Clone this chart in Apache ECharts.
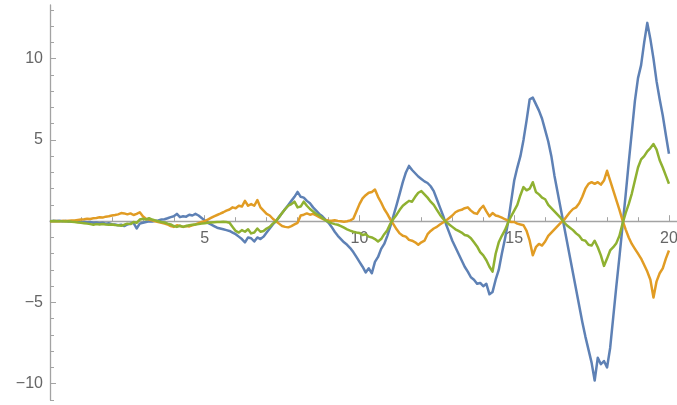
<!DOCTYPE html>
<html>
<head>
<meta charset="utf-8">
<script src="https://cdn.jsdelivr.net/npm/echarts@6/dist/echarts.min.js"></script>
<style>
  html, body { margin: 0; padding: 0; background: #fff; }
  #chart { width: 677px; height: 405px; }
</style>
</head>
<body>
<div id="chart"></div>
<script>
// Three noisy oscillating traces sampled every 0.1 on t in [0, 20]
const tStep = 0.1;

const blueValues = [
  0, 0.02, 0.01, 0.03, 0, 0.02, -0.02, 0, -0.03, -0.01,
  -0.05, -0.03, -0.07, -0.05, -0.1, -0.08, -0.12, -0.1, -0.15, -0.13,
  -0.18, -0.2, -0.25, -0.22, -0.3, -0.2, -0.15, -0.1, -0.45, -0.15,
  -0.1, -0.05, 0, -0.02, 0.03, 0.05, 0.1, 0.12, 0.18, 0.25,
  0.3, 0.45, 0.25, 0.3, 0.28, 0.4, 0.35, 0.45, 0.35, 0.2,
  0.05, -0.1, -0.2, -0.3, -0.4, -0.45, -0.5, -0.55, -0.6, -0.7,
  -0.8, -0.95, -1.1, -1.3, -1.0, -1.05, -1.25, -1.0, -1.1, -0.95,
  -0.7, -0.45, -0.2, 0, 0.25, 0.5, 0.75, 1.0, 1.25, 1.5,
  1.8, 1.5, 1.45, 1.25, 1.1, 0.85, 0.65, 0.45, 0.3, 0.1,
  -0.1, -0.35, -0.65, -0.9, -1.1, -1.3, -1.45, -1.65, -1.9, -2.2,
  -2.5, -2.8, -3.15, -2.9, -3.2, -2.5, -2.2, -1.7, -1.4, -0.9,
  -0.3, 0.35, 1.0, 1.7, 2.4, 3.0, 3.4, 3.15, 2.95, 2.75,
  2.6, 2.45, 2.35, 2.15, 1.85, 1.35, 0.85, 0.35, -0.2, -0.7,
  -1.2, -1.6, -2.0, -2.4, -2.8, -3.1, -3.45, -3.6, -3.85, -3.8,
  -4.0, -3.85, -4.5, -4.35, -3.6, -3.0, -2.0, -1.1, -0.1, 1.2,
  2.5, 3.3, 4.0, 5.0, 6.2, 7.5, 7.6, 7.2, 6.8, 6.3,
  5.6, 4.9, 4.0, 2.8, 1.8, 0.8, -0.2, -1.2, -2.2, -3.2,
  -4.2, -5.2, -6.2, -7.1, -7.9, -8.7, -9.8, -8.4, -8.8, -8.6,
  -9.0, -7.8, -5.9, -4.0, -2.2, -0.3, 1.6, 3.6, 5.5, 7.4,
  8.8, 9.6, 11.0, 12.2, 11.2, 10.0, 8.6, 7.5, 6.5, 5.3,
  4.15
];

const orangeValues = [
  0, -0.01, 0.01, 0, 0.02, 0.01, 0.03, 0.05, 0.04, 0.08,
  0.1, 0.12, 0.15, 0.14, 0.18, 0.2, 0.24, 0.22, 0.28, 0.3,
  0.35, 0.38, 0.42, 0.5, 0.48, 0.42, 0.48, 0.38, 0.45, 0.55,
  0.3, 0.15, 0.1, 0.05, 0, -0.05, -0.1, -0.15, -0.2, -0.3,
  -0.35, -0.25, -0.3, -0.35, -0.3, -0.32, -0.25, -0.2, -0.12, -0.05,
  0, 0.1, 0.2, 0.3, 0.38, 0.46, 0.55, 0.65, 0.72, 0.85,
  0.8, 0.95, 0.9, 1.25, 0.95, 1.05, 0.95, 1.3, 0.85, 0.65,
  0.45, 0.35, 0.15, 0, -0.15, -0.3, -0.35, -0.38, -0.3, -0.2,
  -0.1, 0.35, 0.4, 0.48, 0.4, 0.45, 0.35, 0.25, 0.15, 0.08,
  0.05, 0.03, 0.06, 0.02, 0, -0.03, 0, 0.05, 0.15, 0.6,
  1.05, 1.4, 1.6, 1.75, 1.8, 1.95, 1.5, 1.15, 0.75, 0.45,
  0.1, -0.2, -0.5, -0.75, -0.9, -0.95, -1.15, -1.2, -1.3, -1.45,
  -1.3, -1.2, -0.8, -0.6, -0.45, -0.35, -0.2, -0.08, 0.05, 0.2,
  0.35, 0.55, 0.65, 0.7, 0.8, 0.85, 0.65, 0.5, 0.45, 0.75,
  0.95, 0.6, 0.3, 0.5, 0.35, 0.3, 0.22, 0.12, 0.03, -0.05,
  -0.05, -0.15, -0.2, -0.25, -0.6, -1.2, -2.1, -1.6, -1.4, -1.5,
  -1.25, -0.9, -0.7, -0.5, -0.3, -0.1, 0.05, 0.3, 0.55, 0.75,
  0.85, 1.1, 1.5, 2.0, 2.3, 2.4, 2.3, 2.4, 2.25, 2.5,
  3.1, 2.5, 1.9, 1.3, 0.7, 0.05, -0.5, -1.0, -1.4, -1.7,
  -2.0, -2.3, -2.7, -3.1, -3.6, -4.7, -3.7, -3.2, -2.9, -2.3,
  -1.8
];

const greenValues = [
  0, 0.01, 0, -0.01, 0, -0.02, -0.01, -0.04, -0.05, -0.08,
  -0.1, -0.12, -0.15, -0.18, -0.22, -0.18, -0.2, -0.17, -0.2, -0.22,
  -0.2, -0.24, -0.25, -0.28, -0.22, -0.15, -0.18, -0.05, -0.1, 0.1,
  0.15, 0.1, 0.18, 0.1, 0.05, 0, -0.05, -0.08, -0.15, -0.2,
  -0.3, -0.35, -0.28, -0.35, -0.3, -0.25, -0.22, -0.2, -0.18, -0.15,
  -0.12, -0.1, -0.08, -0.06, -0.05, -0.05, -0.04, -0.05, -0.1, -0.35,
  -0.6, -0.7, -0.55, -0.65, -0.5, -0.75, -0.7, -0.45, -0.65, -0.6,
  -0.45, -0.35, -0.15, 0, 0.25, 0.5, 0.75, 0.95, 1.05, 1.2,
  0.85, 0.9, 1.2, 0.95, 0.75, 0.6, 0.45, 0.35, 0.2, 0.05,
  -0.05, -0.12, -0.18, -0.22, -0.3, -0.4, -0.5, -0.58, -0.65, -0.7,
  -0.72, -0.85, -0.8, -0.95, -1.0, -1.1, -1.25, -1.1, -0.8, -0.55,
  -0.15, 0.15, 0.4, 0.7, 0.95, 1.1, 1.25, 1.2, 1.5, 1.75,
  1.85, 1.65, 1.45, 1.2, 1.0, 0.7, 0.4, 0.15, -0.05, -0.2,
  -0.35, -0.5, -0.6, -0.7, -0.85, -0.9, -1.05, -1.3, -1.55, -1.9,
  -2.1, -2.4, -2.8, -3.1, -2.0, -1.3, -0.9, -0.55, -0.1, 0.3,
  0.65, 1.0, 1.6, 2.1, 1.9, 2.0, 2.4, 1.8, 1.65, 1.45,
  1.35, 1.0, 0.8, 0.6, 0.4, 0.2, -0.05, -0.25, -0.4, -0.55,
  -0.75, -0.9, -1.15, -1.2, -1.45, -1.5, -1.2, -1.6, -2.1, -2.75,
  -2.3, -1.8, -1.6, -1.35, -0.9, -0.15, 0.5, 1.05, 1.7, 2.5,
  3.3, 3.8, 4.0, 4.3, 4.5, 4.75, 4.4, 3.75, 3.3, 2.8,
  2.3
];

// Tick marks and their labels
const xMajorTicks = [5, 10, 15, 20];
const xMinorTicks = [1, 2, 3, 4, 6, 7, 8, 9, 11, 12, 13, 14, 16, 17, 18, 19];
const yMajorTicks = [-10, -5, 5, 10];
const yMinorTicks = [-11, -9, -8, -7, -6, -4, -3, -2, -1, 1, 2, 3, 4, 6, 7, 8, 9, 11, 12, 13];

const seriesColors = ['#5E81B5', '#E19C24', '#8FB131'];

function toPairs(values) {
  return values.map((v, i) => [Math.round(i * tStep * 10) / 10, v]);
}

const axisColor = '#a3a3a3';
const labelColor = '#666666';
const fontFamily = '"Liberation Sans", Arial, Helvetica, sans-serif';

const xRange = { min: 0, max: 20.26 };
const yRange = { min: -11, max: 13.3 };

function xAxes(offset) {
  return [
    {
      type: 'value', position: 'bottom', min: xRange.min, max: xRange.max, offset: offset,
      axisLine: { show: true, onZero: false, lineStyle: { color: axisColor, width: 1.3 } },
      axisTick: { show: true, inside: true, length: 6, customValues: xMajorTicks,
                  lineStyle: { color: axisColor, width: 1 } },
      axisLabel: { show: true, customValues: xMajorTicks, margin: 9,
                   color: labelColor, fontSize: 16, fontFamily: fontFamily },
      splitLine: { show: false }
    },
    {
      type: 'value', position: 'bottom', min: xRange.min, max: xRange.max, offset: offset,
      axisLine: { show: false, onZero: false },
      axisTick: { show: true, inside: true, length: 4, customValues: xMinorTicks,
                  lineStyle: { color: axisColor, width: 1 } },
      axisLabel: { show: false },
      splitLine: { show: false }
    }
  ];
}

const chart = echarts.init(document.getElementById('chart'), null, { renderer: 'canvas' });

chart.setOption({
  animation: false,
  backgroundColor: '#ffffff',
  grid: { left: 50, right: 0, top: 5, bottom: 5, containLabel: false, outerBoundsMode: 'none' },
  xAxis: xAxes(0),
  yAxis: [
    {
      type: 'value', position: 'left', min: yRange.min, max: yRange.max,
      axisLine: { show: true, onZero: false, lineStyle: { color: axisColor, width: 1.3 } },
      axisTick: { show: true, inside: true, length: 6, customValues: yMajorTicks,
                  lineStyle: { color: axisColor, width: 1 } },
      axisLabel: { show: true, customValues: yMajorTicks, margin: 7,
                   color: labelColor, fontSize: 16, fontFamily: fontFamily,
                   formatter: v => String(v).replace('-', '\u2212') },
      splitLine: { show: false }
    },
    {
      type: 'value', position: 'left', min: yRange.min, max: yRange.max,
      axisLine: { show: false, onZero: false },
      axisTick: { show: true, inside: true, length: 4, customValues: yMinorTicks,
                  lineStyle: { color: axisColor, width: 1 } },
      axisLabel: { show: false },
      splitLine: { show: false }
    }
  ],
  series: [blueValues, orangeValues, greenValues].map((vals, k) => ({
    type: 'line',
    xAxisIndex: 0,
    yAxisIndex: 0,
    data: toPairs(vals),
    showSymbol: false,
    symbol: 'none',
    sampling: 'none',
    smooth: false,
    clip: false,
    lineStyle: { color: seriesColors[k], width: 2.5, join: 'round' },
    itemStyle: { color: seriesColors[k] },
    z: 2 + k
  }))
});

// Move the horizontal axis up so it crosses the vertical axis at y = 0
const zeroPx = chart.convertToPixel({ yAxisIndex: 0 }, 0);
const bottomPx = chart.convertToPixel({ yAxisIndex: 0 }, yRange.min);
chart.setOption({ xAxis: xAxes(zeroPx - bottomPx) });
</script>
</body>
</html>
